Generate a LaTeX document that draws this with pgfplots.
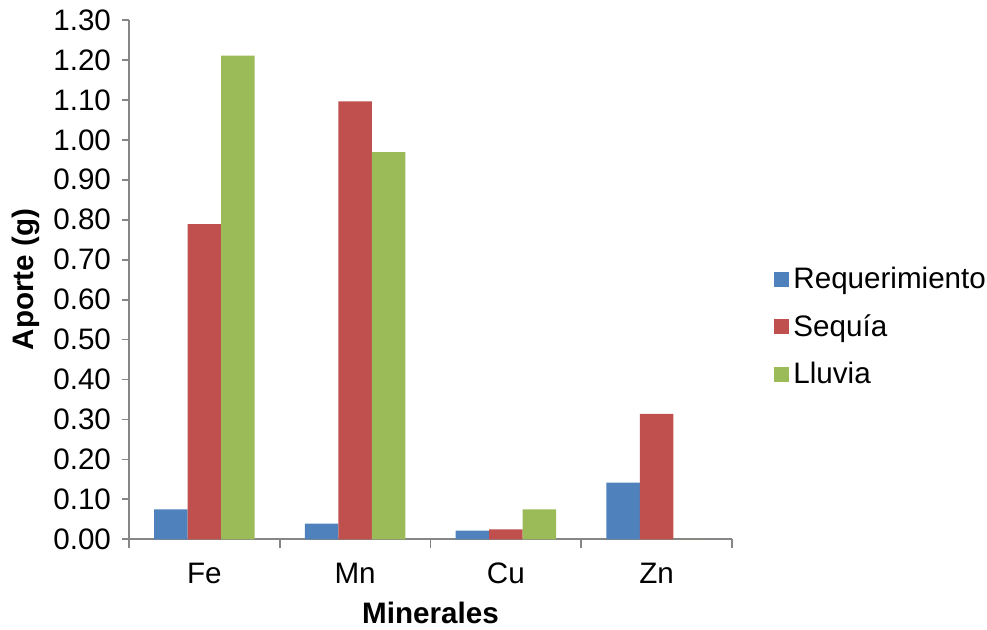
\documentclass[border=0pt]{standalone}
\usepackage{pgfplots}
\pgfplotsset{compat=1.18}
\usepackage{fontspec}
\setmainfont{Liberation Sans}
\definecolor{cReq}{HTML}{4F81BD}
\definecolor{cSeq}{HTML}{C0504D}
\definecolor{cLlu}{HTML}{9BBB59}
\definecolor{cAx}{HTML}{868686}
\pgfplotsset{sqlegend/.style={legend image code/.code={\fill[##1] (0pt,-3.75pt) rectangle (7.5pt,3.75pt);}}}
\begin{document}
\begin{tikzpicture}
\useasboundingbox (-64.5pt,-44.85pt) rectangle (429pt,269.65pt);
\begin{axis}[
  at={(0,0)}, anchor=south west,
  scale only axis, width=301.5pt, height=259.65pt,
  ybar=0pt, bar width=16.75pt,
  xmin=-0.5, xmax=3.5, ymin=0, ymax=1.3,
  axis lines=left, axis line style={-, draw=cAx, line width=0.9pt},
  xtick={0,1,2,3}, xticklabels={Fe,Mn,Cu,Zn},
  minor xtick={-0.5,0.5,1.5,2.5,3.5},
  ytick={0,0.1,...,1.31},
  tick align=outside,
  tick style={draw=cAx, line width=0.9pt},
  major x tick style={draw=none},
  minor tick length=4.5pt,
  major tick length=3.5pt,
  /pgf/number format/.cd, fixed, fixed zerofill, precision=2, assume math mode=true,
  /pgfplots/.cd,
  ticklabel style={font=\fontsize{14.8}{17}\selectfont},
  xticklabel style={yshift=-4.5pt, text height=10.6pt, text depth=0pt},
  yticklabel style={xshift=-2pt},
  xlabel={Minerales}, ylabel={Aporte (g)},
  label style={font=\fontsize{14.8}{17}\selectfont\bfseries},
  xlabel style={yshift=-4.5pt, inner sep=1pt},
  legend style={draw=none, at={(1.0697,0.409)}, anchor=west, inner sep=0pt,
    font=\fontsize{14.8}{17}\selectfont, row sep=7.5pt, cells={anchor=west}},
  legend cell align=left,
]
\addplot[fill=cReq, draw=none, sqlegend] coordinates {(0,0.075) (1,0.039) (2,0.022) (3,0.142)};
\addplot[fill=cSeq, draw=none, sqlegend] coordinates {(0,0.789) (1,1.096) (2,0.025) (3,0.314)};
\addplot[fill=cLlu, draw=none, sqlegend] coordinates {(0,1.211) (1,0.969) (2,0.075) (3,0)};
\legend{Requerimiento, Sequía, Lluvia}
\end{axis}
\end{tikzpicture}
\end{document}
